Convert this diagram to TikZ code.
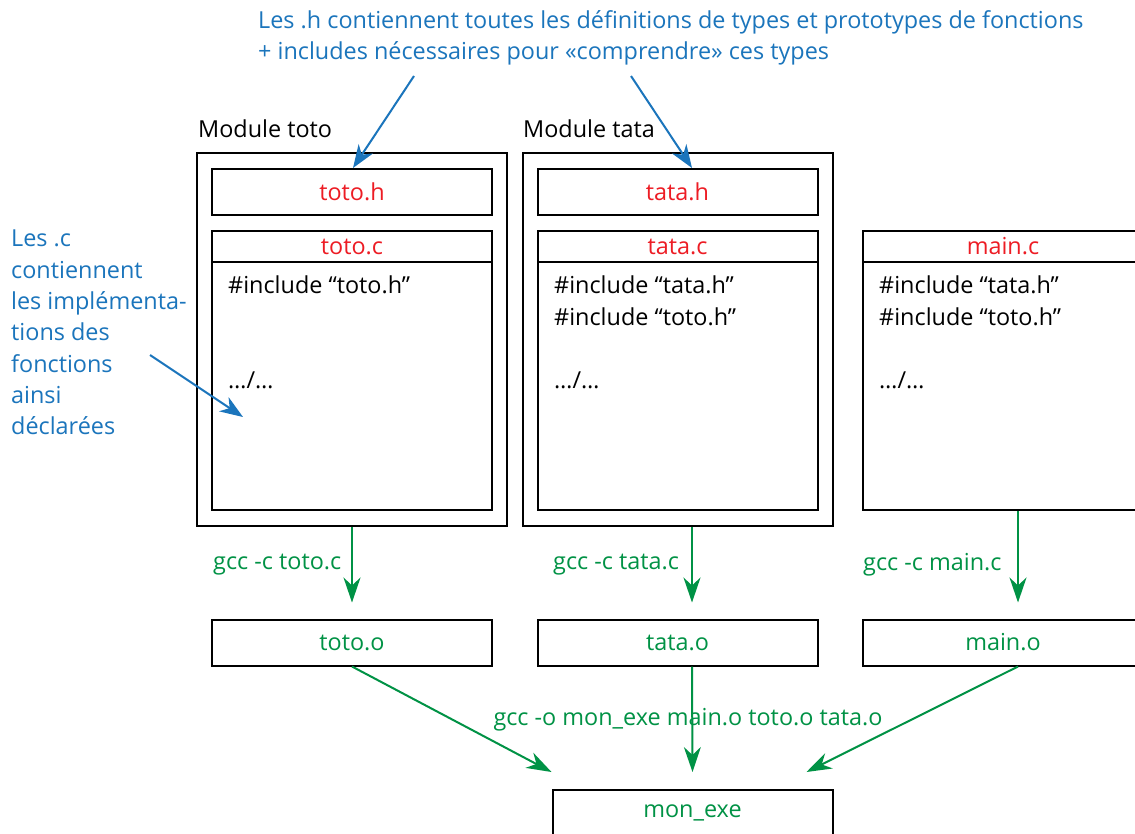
\documentclass[tikz,border=0pt]{standalone}
\usepackage{fontspec}
\setmainfont{Open Sans}
\usetikzlibrary{arrows.meta,positioning,calc}
\definecolor{cblue}{RGB}{27,117,188}
\definecolor{cred}{RGB}{237,28,36}
\definecolor{cgreen}{RGB}{0,146,69}
\begin{document}
\begin{tikzpicture}[x=1pt,y=-1pt,
  every node/.style={inner sep=0pt, font=\fontsize{23.4}{31.3}\selectfont},
  box/.style={draw=black, line width=2pt, minimum width=280pt, minimum height=46pt},
  modbox/.style={draw=black, line width=2pt, minimum width=310pt, minimum height=373pt},
  cbox/.style={draw=black, line width=2pt, minimum width=280pt, minimum height=279pt},
  chead/.style={draw=black, line width=2pt, minimum width=280pt, minimum height=31pt, text=cred},
  hname/.style={text=cred},
  ostyle/.style={text=cgreen},
  code/.style={anchor=west, text=black},
  garrow/.style={draw=cgreen, line width=2pt, -{Stealth[length=25pt,width=17pt,inset=8pt]}},
  barrow/.style={draw=cblue, line width=2pt, -{Stealth[length=23pt,width=17pt,inset=7pt]}},
  gtext/.style={text=cgreen},
  btext/.style={text=cblue}]
\useasboundingbox (0,0) rectangle (1135,833);
\fill[white] (0,0) rectangle (1135,833);

% annotation top
\node[btext, anchor=west, align=left] (hnote) at (258,38) {Les .h contiennent toutes les définitions de types et prototypes de fonctions\\+ includes nécessaires pour «comprendre» ces types};

% modules
\node[modbox] (totomod) at (352,339.5) {};
\node[anchor=west] (totomodlbl) at (198,129) {Module toto};
\node[modbox] (tatamod) at (677.5,339.5) {};
\node[anchor=west] (tatamodlbl) at (523,129) {Module tata};

% headers
\node[box, hname] (totoh) at (352,192) {toto.h};
\node[box, hname] (tatah) at (677.5,192) {tata.h};

% c files
\node[cbox] (totoc) at (352,370.5) {};
\node[chead, anchor=north] (totocname) at (totoc.north) {toto.c};
\node[code] (totoinc) at (228,285) {\#include “toto.h”};
\node[code] (totodots) at (228,380) {…/…};

\node[cbox] (tatac) at (677.5,370.5) {};
\node[chead, anchor=north] (tatacname) at (tatac.north) {tata.c};
\node[code] (tatainca) at (554,285) {\#include “tata.h”};
\node[code] (tataincb) at (554,317) {\#include “toto.h”};
\node[code] (tatadots) at (554,380) {…/…};

\node[cbox] (mainc) at (1003,370.5) {};
\node[chead, anchor=north] (maincname) at (mainc.north) {main.c};
\node[code] (maininca) at (879,285) {\#include “tata.h”};
\node[code] (mainincb) at (879,317) {\#include “toto.h”};
\node[code] (maindots) at (879,380) {…/…};

% left annotation
\node[btext, anchor=north west, align=left] (cnote) at (11,230) {Les .c\\contiennent\\les implémenta-\\tions des\\fonctions\\ainsi\\déclarées};
\coordinate (cnotestart) at (150,355);
\coordinate (cnoteend) at (243,417);
\draw[barrow] (cnotestart) -- (cnoteend);

% top arrows
\coordinate (hstartA) at (414,76);
\coordinate (hstartB) at (631,76);
\draw[barrow] (hstartA) -- ([xshift=1pt]totoh.north);
\draw[barrow] (hstartB) -- ([xshift=14.5pt]tatah.north);

% object files
\node[box, ostyle] (totoo) at (352,642.5) {toto.o};
\node[box, ostyle] (tatao) at (677.5,642.5) {tata.o};
\node[box, ostyle] (maino) at (1003,642.5) {main.o};
\node[box, ostyle] (monexe) at (692.5,813) {mon\_exe};

% compile arrows
\draw[garrow] (totomod.south) -- ([yshift=16pt]totoo.north);
\draw[garrow] ([xshift=14.5pt]tatamod.south) -- ([xshift=14.5pt,yshift=16pt]tatao.north);
\draw[garrow] ([xshift=15pt]mainc.south) -- ([xshift=15pt,yshift=16pt]maino.north);
\node[gtext, anchor=west] (ltoto) at (213,565) {gcc -c toto.c};
\node[gtext, anchor=west] (ltata) at (553,565) {gcc -c tata.c};
\node[gtext, anchor=west] (lmain) at (863,565) {gcc -c main.c};

% link arrows
\draw[garrow] (totoo.south) -- ([yshift=17pt]monexe.north west);
\draw[garrow] ([xshift=14.5pt]tatao.south) -- ([yshift=17pt]monexe.north);
\draw[garrow] ([xshift=15pt]maino.south) -- ([xshift=-27pt,yshift=17pt]monexe.north east);
\node[gtext] (llink) at (688,720) {gcc -o mon\_exe main.o toto.o tata.o};
\end{tikzpicture}
\end{document}
